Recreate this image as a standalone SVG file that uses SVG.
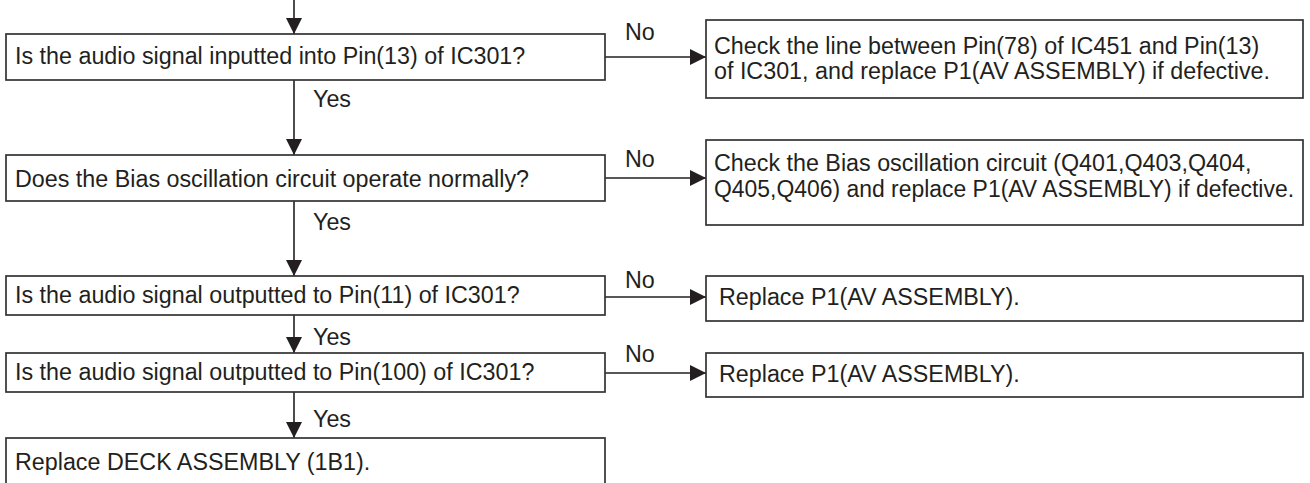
<svg xmlns="http://www.w3.org/2000/svg" width="1310" height="483" viewBox="0 0 1310 483">
<style>
.box{fill:#fff;stroke:#333;stroke-width:1.7}
.t{font-family:"Liberation Sans",Arial,Helvetica,sans-serif;font-size:23.3px;fill:#231f20}
.c{fill:none;stroke:#231f20;stroke-width:1.6}
</style>
<defs>
<marker id="ah" markerUnits="userSpaceOnUse" viewBox="0 0 16 16" refX="16" refY="8" markerWidth="16" markerHeight="16" orient="auto">
<path d="M0,0 L16,8 L0,16 Z" fill="#231f20"/>
</marker>
</defs>
<g id="connectors">
<line class="c" x1="294" y1="0" x2="294" y2="34" marker-end="url(#ah)"/>
<line class="c" x1="294" y1="80" x2="294" y2="155" marker-end="url(#ah)"/>
<line class="c" x1="294" y1="201" x2="294" y2="276" marker-end="url(#ah)"/>
<line class="c" x1="294" y1="315" x2="294" y2="353" marker-end="url(#ah)"/>
<line class="c" x1="294" y1="392" x2="294" y2="438" marker-end="url(#ah)"/>
<line class="c" x1="605" y1="57" x2="706" y2="57" marker-end="url(#ah)"/>
<line class="c" x1="605" y1="178" x2="706" y2="178" marker-end="url(#ah)"/>
<line class="c" x1="605" y1="297" x2="706" y2="297" marker-end="url(#ah)"/>
<line class="c" x1="605" y1="373" x2="706" y2="373" marker-end="url(#ah)"/>
<text class="t" x="313" y="107">Yes</text>
<text class="t" x="313" y="230">Yes</text>
<text class="t" x="313" y="345">Yes</text>
<text class="t" x="313" y="427">Yes</text>
<text class="t" x="625" y="40">No</text>
<text class="t" x="625" y="167">No</text>
<text class="t" x="625" y="288">No</text>
<text class="t" x="625" y="362">No</text>
</g>
<g id="q1">
<rect class="box" x="6" y="34" width="599" height="46"/>
<text class="t" x="15" y="64">Is the audio signal inputted into Pin(13) of IC301?</text>
</g>
<g id="r1">
<rect class="box" x="706" y="20" width="597" height="78"/>
<text class="t" x="714" y="54">Check the line between Pin(78) of IC451 and Pin(13)</text>
<text class="t" x="714" y="79">of IC301, and replace P1(AV ASSEMBLY) if defective.</text>
</g>
<g id="q2">
<rect class="box" x="6" y="155" width="599" height="46"/>
<text class="t" x="15" y="187">Does the Bias oscillation circuit operate normally?</text>
</g>
<g id="r2">
<rect class="box" x="706" y="140" width="597" height="85"/>
<text class="t" x="714" y="171">Check the Bias oscillation circuit (Q401,Q403,Q404,</text>
<text class="t" x="714" y="197" textLength="580" lengthAdjust="spacingAndGlyphs">Q405,Q406) and replace P1(AV ASSEMBLY) if defective.</text>
</g>
<g id="q3">
<rect class="box" x="6" y="276" width="599" height="39"/>
<text class="t" x="15" y="303">Is the audio signal outputted to Pin(11) of IC301?</text>
</g>
<g id="r3">
<rect class="box" x="706" y="276" width="597" height="45"/>
<text class="t" x="719" y="305">Replace P1(AV ASSEMBLY).</text>
</g>
<g id="q4">
<rect class="box" x="6" y="353" width="599" height="39"/>
<text class="t" x="15" y="380">Is the audio signal outputted to Pin(100) of IC301?</text>
</g>
<g id="r4">
<rect class="box" x="706" y="353" width="597" height="44"/>
<text class="t" x="719" y="382">Replace P1(AV ASSEMBLY).</text>
</g>
<g id="end">
<rect class="box" x="6" y="438" width="599" height="60"/>
<text class="t" x="15" y="470">Replace DECK ASSEMBLY (1B1).</text>
</g>
</svg>
